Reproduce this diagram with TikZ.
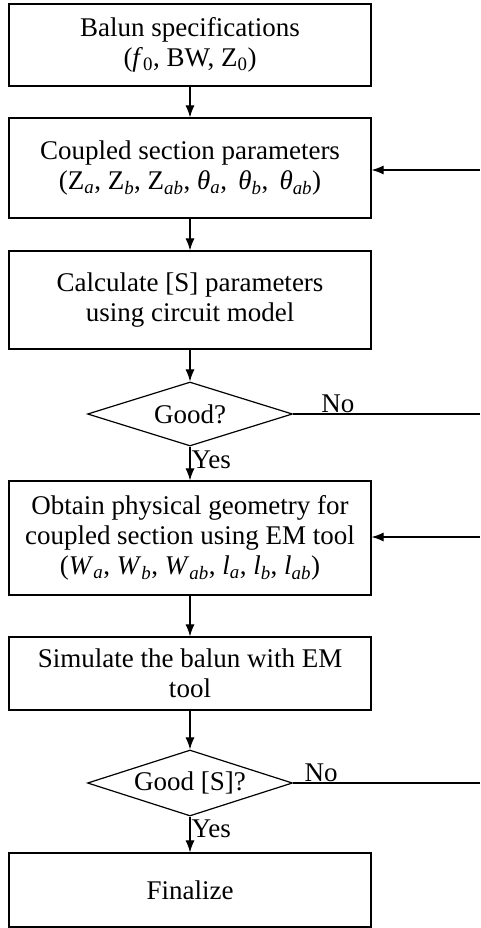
\documentclass[tikz,border=0pt]{standalone}
\usepackage{fontspec}
\setmainfont{Liberation Serif}
\usetikzlibrary{shapes.geometric,arrows.meta}
\newcommand{\sbi}[1]{\textsubscript{\textit{#1}}}
\begin{document}
\begin{tikzpicture}[x=1pt,y=-1pt,
  every node/.style={font=\fontsize{27}{30}\selectfont},
  procbox/.style={draw,line width=1.2pt,minimum width=362pt,align=center,inner sep=0pt},
  decbox/.style={draw,diamond,line width=1.2pt,minimum width=205pt,inner sep=0pt,shape aspect=3.2},
  flow/.style={line width=1.1pt,-{Latex[length=12pt,width=9pt]}},
  plain/.style={line width=1.1pt},
  lbl/.style={inner sep=1pt}]
\useasboundingbox (0,0) rectangle (480,928);
\node[procbox,minimum height=82pt] (b1) at (190,45) {Balun specifications\\(\textit{f}\textsubscript{0}, BW, Z\textsubscript{0})};
\node[procbox,minimum height=100pt] (b2) at (190,168) {Coupled section parameters\\(Z\sbi{a}, Z\sbi{b}, Z\sbi{ab}, \textit{θ}\sbi{a},\, \textit{θ}\sbi{b},\, \textit{θ}\sbi{ab})};
\node[procbox,minimum height=98pt] (b3) at (190,300) {Calculate [S] parameters\\using circuit model};
\node[decbox,minimum height=64pt] (d1) at (190,414) {Good?};
\node[procbox,minimum height=114pt] (b4) at (190,538) {Obtain physical geometry for\\coupled section using EM tool\\(\textit{W}\sbi{a}, \textit{W}\sbi{b}, \textit{W}\sbi{ab}, \textit{l}\sbi{a}, \textit{l}\sbi{b}, \textit{l}\sbi{ab})};
\node[procbox,minimum height=73pt] (b5) at (190,673.5) {Simulate the balun with EM\\tool};
\node[decbox,minimum height=66pt] (d2) at (190,783) {Good [S]?};
\node[procbox,minimum height=74pt] (b6) at (190,890) {Finalize};
\coordinate (r1) at (480,170);
\coordinate (r2) at (480,414);
\coordinate (r3) at (480,537);
\coordinate (r4) at (480,783);
\draw[flow] (b1) -- (b2);
\draw[flow] (b2) -- (b3);
\draw[flow] (b3) -- (d1);
\draw[flow] (d1) -- node[lbl,pos=0.4,anchor=west] {Yes} (b4);
\draw[flow] (b4) -- (b5);
\draw[flow] (b5) -- (d2);
\draw[flow] (d2) -- node[lbl,pos=0.35,anchor=west] {Yes} (b6);
\draw[plain] (d1.east) -- node[lbl,pos=0.24,anchor=south] {No} (r2);
\draw[plain] (d2.east) -- node[lbl,pos=0.15,anchor=south] {No} (r4);
\draw[flow] (r1) -- (b2.east |- r1);
\draw[flow] (r3) -- (b4.east |- r3);
\end{tikzpicture}
\end{document}
